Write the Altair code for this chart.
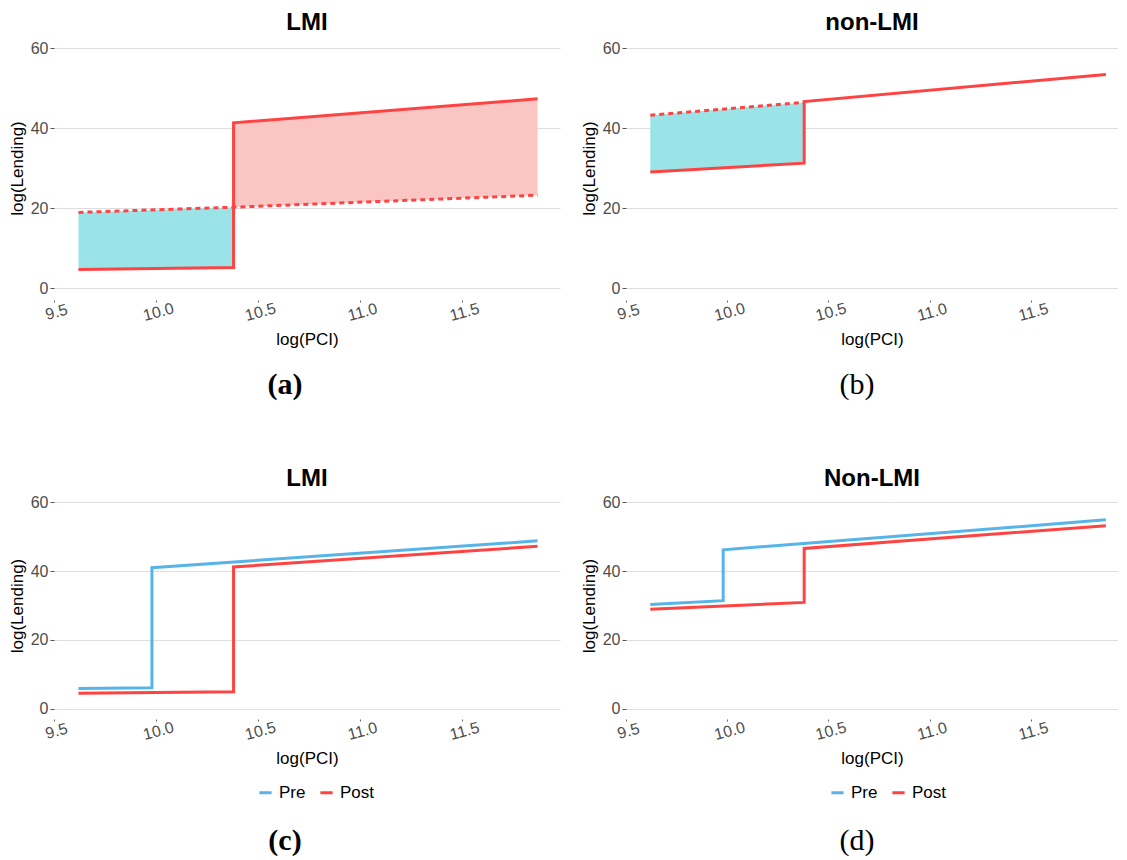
import altair as alt
import pandas as pd

# ---------------- data ----------------
x_ticks = [9.5, 10.0, 10.5, 11.0, 11.5]
y_ticks = [0, 20, 40, 60]

titles = ["LMI", "non-LMI", "LMI", "Non-LMI"]
captions = ["(a)", "(b)", "(c)", "(d)"]
caption_weights = ["bold", "normal", "bold", "normal"]
series = ["Pre", "Post"]

# panel (a): LMI, observed post line and counterfactual (dashed)
a_post_x = [9.62, 10.38, 10.38, 11.87]
a_post_y = [4.6, 5.1, 41.3, 47.3]
a_cf_x = [9.62, 10.38, 11.87]
a_cf_y = [18.9, 20.2, 23.2]

# panel (b): non-LMI
b_post_x = [9.62, 10.38, 10.38, 11.87]
b_post_y = [29.0, 31.2, 46.6, 53.4]
b_cf_x = [9.62, 10.38]
b_cf_y = [43.2, 46.4]

# panel (c): LMI pre / post
c_pre_x = [9.62, 9.98, 9.98, 11.87]
c_pre_y = [5.9, 6.1, 41.0, 48.8]
c_post_x = [9.62, 10.38, 10.38, 11.87]
c_post_y = [4.5, 4.9, 41.2, 47.2]

# panel (d): Non-LMI pre / post
d_pre_x = [9.62, 9.98, 9.98, 11.87]
d_pre_y = [30.3, 31.4, 46.2, 54.9]
d_post_x = [9.62, 10.38, 10.38, 11.87]
d_post_y = [28.9, 30.9, 46.6, 53.2]

# ---------------- styling ----------------
RED = "#FF4343"
BLUE = "#56B4E9"
TEAL = "#9AE4E7"
PINK = "#F9C6C4"
FONT = "Liberation Sans"
SERIF = "Liberation Serif"

W_L = 506
W_R = 492
H_TOP = 264
H_BOT = 227

xscale_l = alt.Scale(domain=[9.5, 11.98], nice=False, zero=False)
xscale_r = alt.Scale(domain=[9.5, 11.93], nice=False, zero=False)
yscale = alt.Scale(domain=[-3, 63], nice=False, zero=False)

xaxis = alt.Axis(values=x_ticks, format=".1f", title="log(PCI)", grid=False, domain=False,
                 ticks=True, tickSize=2, tickColor="#666666", labelAngle=345,
                 labelAlign="center", labelBaseline="top", labelPadding=2,
                 labelFontSize=16, labelColor="#4D4D4D", labelFont=FONT,
                 titleFont=FONT, titleFontSize=17, titleFontWeight="normal",
                 titleColor="#000000", titlePadding=8, labelFlush=False)
yaxis = alt.Axis(values=y_ticks, title="log(Lending)", grid=True, gridColor="#DEDEDE",
                 gridWidth=1, domain=False, ticks=True, tickSize=4, tickColor="#555555",
                 labelPadding=2, labelFontSize=16, labelColor="#4D4D4D", labelFont=FONT,
                 titleFont=FONT, titleFontSize=17, titleFontWeight="normal",
                 titleColor="#000000", titlePadding=4)


def X(xscale, field="x"):
    return alt.X(f"{field}:Q", scale=xscale, axis=xaxis)


def Y(field="y"):
    return alt.Y(f"{field}:Q", scale=yscale, axis=yaxis)


def line_df(xs, ys, name=""):
    return pd.DataFrame({"x": xs, "y": ys, "i": list(range(len(xs))), "s": name})


def ribbon_df(xs, lo, hi):
    return pd.DataFrame({"x": xs, "lo": lo, "hi": hi})


def caption_layer(k):
    return alt.Chart(pd.DataFrame({"c": [captions[k]]})).mark_text(
        font=SERIF, fontSize=30, fontWeight=caption_weights[k], align="center",
        baseline="middle", color="#000000"
    ).encode(text="c:N", x=alt.value(231), y=alt.value(349))


def title_of(t):
    return alt.Title(t, fontSize=24, fontWeight="bold", font=FONT, color="#000000",
                     anchor="middle", offset=1)


# ---------------- panel (a) ----------------
a_teal = ribbon_df(a_post_x[:2], a_post_y[:2], a_cf_y[:2])
a_pink = ribbon_df(a_cf_x[1:], a_cf_y[1:], [a_post_y[2], a_post_y[3]])
xs = xscale_l
pa = alt.layer(
    alt.Chart(a_teal).mark_area(color=TEAL).encode(x=X(xs), y=Y("lo"), y2="hi:Q"),
    alt.Chart(a_pink).mark_area(color=PINK).encode(x=X(xs), y=Y("lo"), y2="hi:Q"),
    alt.Chart(line_df(a_cf_x, a_cf_y)).mark_line(color=RED, strokeWidth=3, strokeDash=[5, 4])
    .encode(x=X(xs), y=Y(), order="i:Q"),
    alt.Chart(line_df(a_post_x, a_post_y)).mark_line(color=RED, strokeWidth=3)
    .encode(x=X(xs), y=Y(), order="i:Q"),
    caption_layer(0),
).properties(width=W_L, height=H_TOP, title=title_of(titles[0]))

# ---------------- panel (b) ----------------
b_teal = ribbon_df(b_post_x[:2], b_post_y[:2], b_cf_y)
xs = xscale_r
pb = alt.layer(
    alt.Chart(b_teal).mark_area(color=TEAL).encode(x=X(xs), y=Y("lo"), y2="hi:Q"),
    alt.Chart(line_df(b_cf_x, b_cf_y)).mark_line(color=RED, strokeWidth=3, strokeDash=[5, 4])
    .encode(x=X(xs), y=Y(), order="i:Q"),
    alt.Chart(line_df(b_post_x, b_post_y)).mark_line(color=RED, strokeWidth=3)
    .encode(x=X(xs), y=Y(), order="i:Q"),
    caption_layer(1),
).properties(width=W_R, height=H_TOP, title=title_of(titles[1]))

# ---------------- panels (c), (d) ----------------
color_scale = alt.Scale(domain=series, range=[BLUE, RED])
legend = alt.Legend(title=None, orient="none", legendX=203, legendY=292, direction="horizontal",
                    symbolType="stroke", symbolStrokeWidth=3, symbolSize=150,
                    labelFontSize=17, labelFont=FONT, labelColor="#000000",
                    columnPadding=8, labelOffset=5)


def prepost(pre_x, pre_y, post_x, post_y, k, xscale, w):
    df = pd.concat([line_df(pre_x, pre_y, series[0]), line_df(post_x, post_y, series[1])])
    return alt.layer(
        alt.Chart(df).mark_line(strokeWidth=3).encode(
            x=X(xscale), y=Y(), order="i:Q", detail="s:N",
            color=alt.Color("s:N", scale=color_scale, legend=legend)),
        caption_layer(k),
    ).properties(width=w, height=H_BOT, title=title_of(titles[k]))


pc = prepost(c_pre_x, c_pre_y, c_post_x, c_post_y, 2, xscale_l, W_L)
pd_ = prepost(d_pre_x, d_pre_y, d_post_x, d_post_y, 3, xscale_r, W_R)

top = alt.hconcat(pa, pb, spacing=20).resolve_scale(x="independent")
bottom = (alt.hconcat(pc, pd_, spacing=20)
          .resolve_scale(x="independent", color="independent")
          .resolve_legend(color="independent"))

chart = (alt.vconcat(top, bottom, spacing=67)
         .properties(padding={"left": 0, "top": 3, "right": 0, "bottom": 0})
         .configure_view(stroke=None))

chart.save("out.html", embed_options={"renderer": "svg", "actions": False})
